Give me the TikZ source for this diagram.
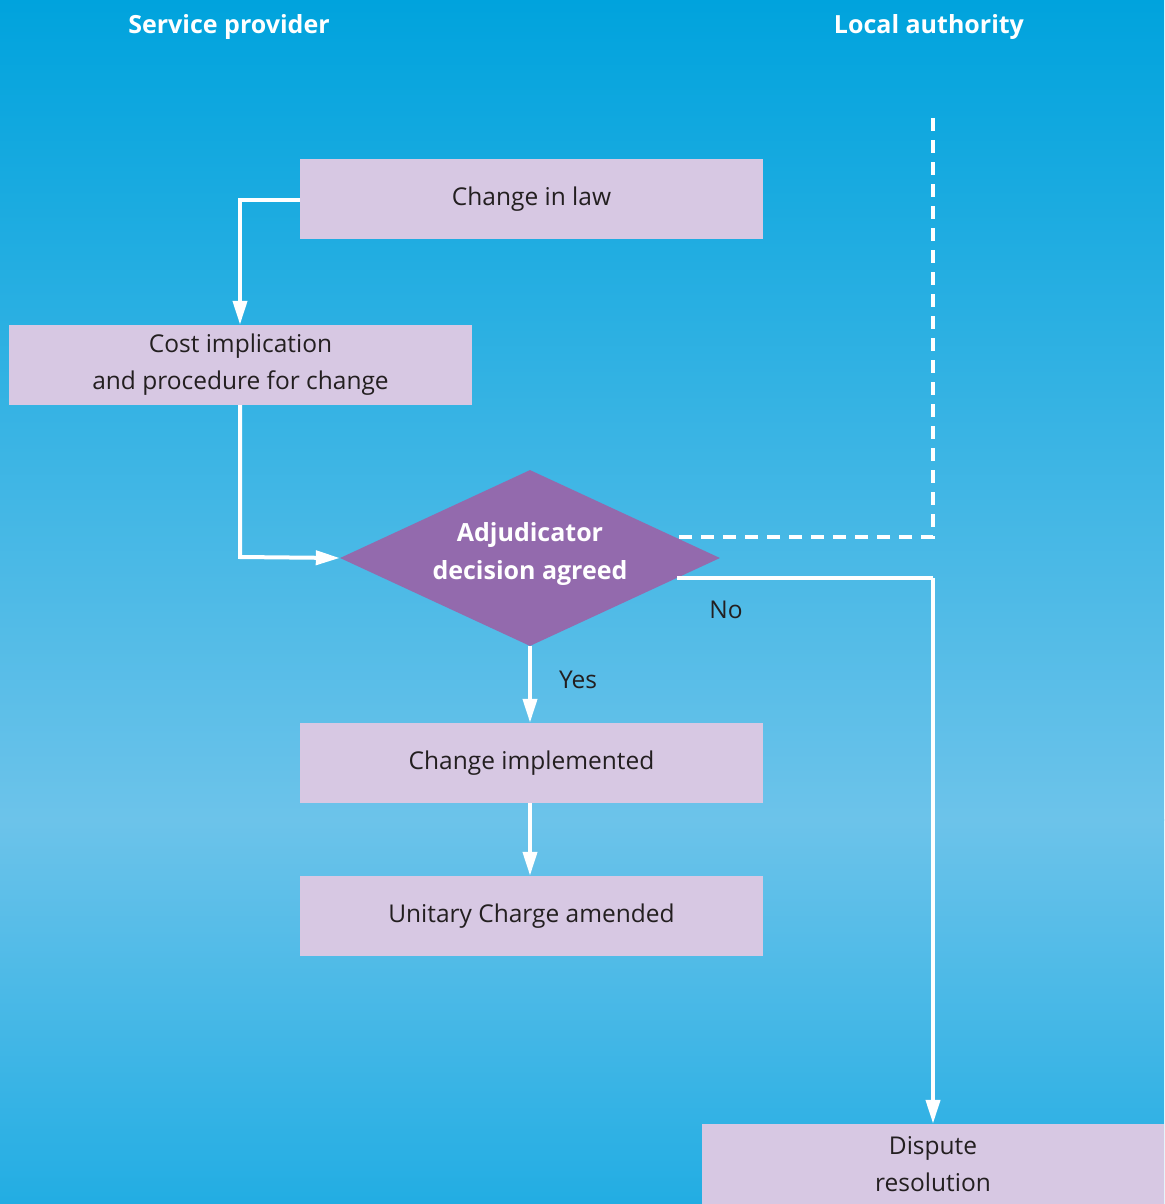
\documentclass[tikz,border=0pt]{standalone}
\usepackage{fontspec}
\setmainfont{Open Sans}
\usetikzlibrary{arrows.meta,shapes.geometric}
\definecolor{bgtop}{HTML}{00A3DD}
\definecolor{bgmid}{HTML}{6CC3EA}
\definecolor{bgbot}{HTML}{22ADE3}
\definecolor{boxfill}{HTML}{D7C8E3}
\definecolor{decfill}{HTML}{936AAD}
\definecolor{ink}{HTML}{231F20}
\tikzset{
  procbox/.style={fill=boxfill, minimum width=463pt, minimum height=80pt, inner sep=0pt,
    text=ink, font=\fontsize{24.5}{37}\selectfont, align=center},
  decision/.style={diamond, fill=decfill, minimum width=380pt, minimum height=176pt,
    aspect=2.16, inner sep=0pt, text=white, font=\bfseries\fontsize{25}{37}\selectfont, align=center},
  flow/.style={white, line width=4pt, -{Triangle[width=14pt,length=24pt]}},
  plain/.style={white, line width=4pt},
  dashline/.style={white, line width=4pt, dash pattern=on 13pt off 9pt},
  heading/.style={text=white, font=\bfseries\fontsize{25}{30}\selectfont},
  lbl/.style={text=ink, font=\fontsize{24.5}{30}\selectfont},
}
\begin{document}
\begin{tikzpicture}[x=1pt,y=-1pt]
  % background
  \useasboundingbox (0,0) rectangle (1164,1204);
  \shade[top color=bgtop, bottom color=bgmid] (0,0) rectangle (1164,820);
  \shade[top color=bgmid, bottom color=bgbot] (0,819.5) rectangle (1164,1204);

  % column headings
  \node[heading] (hsp) at (229,27) {Service provider};
  \node[heading] (hla) at (929,27) {Local authority};

  % process boxes
  \node[procbox] (law) at (531.5,199) {Change in law};
  \node[procbox] (cost) at (240.5,365) {Cost implication\\and procedure for change};
  \node[decision] (dec) at (530,558) {};
  \node[text=white, font=\bfseries\fontsize{25}{37}\selectfont, align=center] (dectext) at (530,554) {Adjudicator\\decision agreed};
  \node[procbox] (impl) at (531.5,763) {Change implemented};
  \node[procbox] (unit) at (531.5,916) {Unitary Charge amended};
  \node[procbox, minimum width=462pt] (disp) at (933,1164) {Dispute\\resolution};

  % helper points
  \coordinate (c1) at (240,200);
  \coordinate (c2) at (240,557);
  \coordinate (noout) at (677,578);
  \coordinate (c3) at (933,578);
  \coordinate (dstart) at (933,118);
  \coordinate (c4) at (933,537);
  \coordinate (dend) at (675,537);

  % connectors
  \draw[flow] (law.west |- c1) -- (c1) -- (cost.north -| c1);
  \draw[flow] (cost.south -| c2) -- (c2) -- (dec.west);
  \draw[flow] (dec.south) -- (impl.north -| dec.south);
  \draw[flow] (impl.south -| dec.south) -- (unit.north -| dec.south);
  \draw[plain] (noout) -- (c3);
  \draw[flow] (c3) -- (disp.north -| c3);
  \draw[dashline] (dstart) -- (c4) -- (dend);

  % branch labels
  \node[lbl] (no) at (726,610) {No};
  \node[lbl] (yes) at (578,680) {Yes};
\end{tikzpicture}
\end{document}
